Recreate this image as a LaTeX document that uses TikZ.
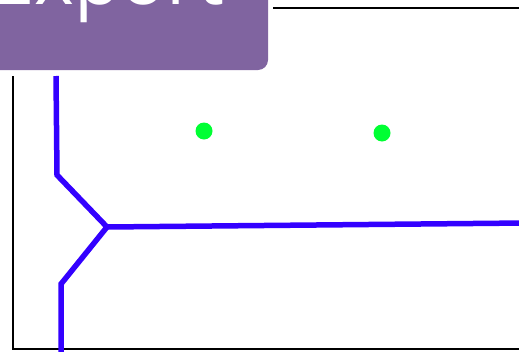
\documentclass[tikz,border=0pt]{standalone}
\usepackage{fontspec}
\setmainfont{Open Sans}
\definecolor{hdrpurple}{RGB}{128,100,160}
\definecolor{edgeblue}{RGB}{51,0,255}
\definecolor{sitegreen}{RGB}{0,255,51}
\tikzset{
  frameline/.style={draw=black, line width=2pt},
  edgeline/.style={draw=edgeblue, line width=5.5pt, line join=miter},
  site/.style={circle, fill=sitegreen, inner sep=0pt, minimum size=17pt},
}
\begin{document}
\begin{tikzpicture}[x=1pt, y=-1pt]
\useasboundingbox (0,0) rectangle (519,351);
\fill[white] (0,0) rectangle (519,351);
% frame
\draw[frameline] (273,8) -- (525,8);
\draw[frameline] (13,76) -- (13,349) -- (525,349);
% voronoi edges
\coordinate (top) at (56,76);
\coordinate (b1) at (57,175);
\coordinate (j) at (107,227);
\coordinate (b2) at (61,284);
\coordinate (bot) at (61,352);
\coordinate (right) at (525,223);
\draw[edgeline] (top) -- (b1) -- (j) -- (b2) -- (bot);
\draw[edgeline] (j) -- (right);
% sites
\node[site] (s1) at (204,131) {};
\node[site] (s2) at (382,133) {};
% header
\fill[hdrpurple, rounded corners=10pt] (-20,-40) rectangle (268,70);
\node[anchor=base west, inner sep=0pt, text=white, font=\fontsize{76}{80}\selectfont] (title) at (-8,4) {Export};
\end{tikzpicture}
\end{document}
